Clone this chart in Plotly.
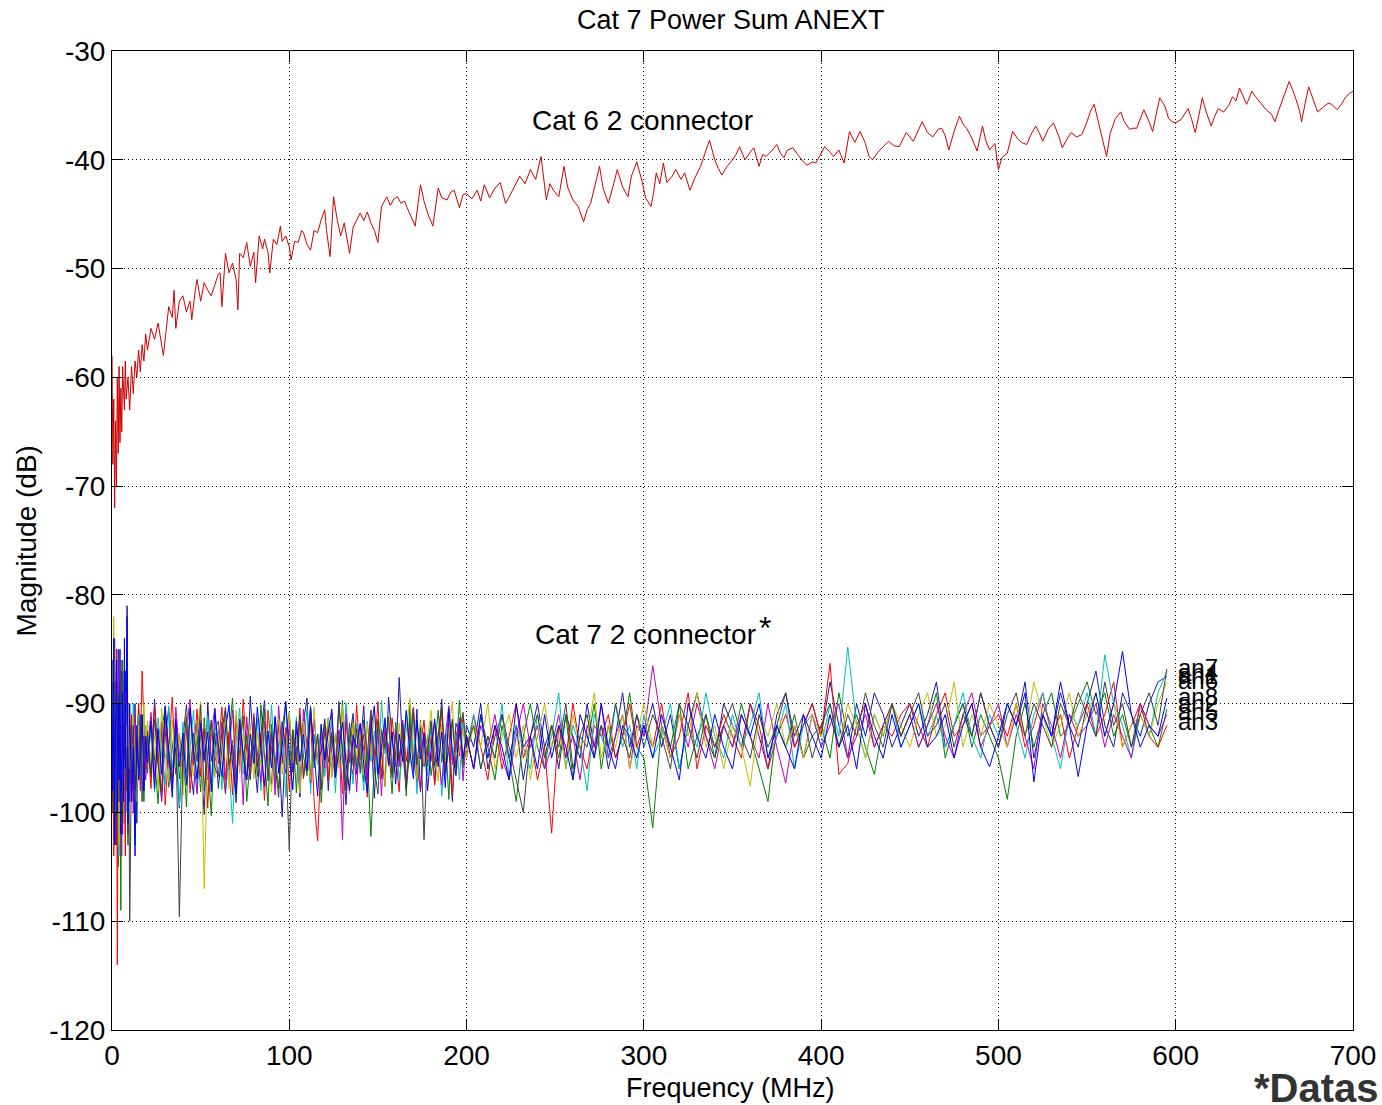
import plotly.graph_objects as go

# ---------------- data ----------------
# Cat 6 2 connector (red curve)
RED_F = [
    0, 0.5, 1, 1.5, 2, 2.5, 3, 3.5, 4, 4.5,
    5, 5.5, 6, 7, 7.5, 8, 9, 10, 11, 12,
    13, 14, 15, 16, 17, 18, 19, 20, 22, 24,
    26, 28, 29, 31, 32, 34, 35, 36, 38, 40,
    42, 44, 45, 47, 48, 50, 52, 54, 56, 58,
    60, 61, 62, 64, 66, 68, 70, 71, 72, 74,
    76, 78, 80, 81, 83, 85, 86, 88, 89, 91,
    93, 95, 96, 98, 100, 101, 103, 105, 107, 108,
    110, 112, 114, 116, 118, 120, 121, 123, 125, 127,
    129, 131, 134, 136, 138, 140, 142, 144, 146, 148,
    150, 152, 155, 157, 159, 161, 163, 165, 167, 169,
    171, 174, 176, 178, 181, 184, 186, 189, 191, 193,
    196, 198, 200, 203, 206, 208, 210, 213, 216, 219,
    222, 226, 230, 233, 236, 239, 242, 245, 247, 249,
    252, 255, 257, 260, 263, 266, 268, 270, 273, 275,
    277, 280, 283, 285, 288, 291, 293, 296, 299, 301,
    304, 305.5, 307, 309, 311, 313, 316, 318, 321, 323,
    326, 329, 332, 335, 337, 340, 342, 344, 347, 350,
    352, 354, 357, 360, 362, 365, 367, 369, 372, 375,
    377, 379, 381, 384, 387, 390, 392, 395, 397, 400,
    402, 405, 407, 410, 413, 416, 419, 422, 425, 427,
    429, 432, 435, 438, 441, 444, 448, 452, 457, 460,
    463, 466, 468, 470, 472, 475, 478, 480, 482, 485,
    488, 491, 493, 495, 498, 500, 502, 505, 508, 511,
    513, 516, 518, 521, 523, 525, 528, 531, 534, 536,
    539, 541, 544, 547, 550, 552, 554, 556, 558, 561,
    563, 566, 569, 571, 574, 576, 578, 580, 582, 585,
    587, 589, 591, 594, 596, 598, 600, 603, 605, 607,
    609, 611, 613, 615, 617, 620, 622, 624, 627, 630,
    632, 634, 636, 638, 640, 643, 645, 648, 651, 654,
    656, 658, 660, 662, 664, 666, 668, 670, 671, 673,
    675, 677, 680, 683, 686, 688, 691, 693, 696, 698,
    700,
]
RED_DB = [
    -58, -68, -62, -72, -64, -70, -60, -67, -59, -66,
    -61, -65, -59, -63, -58.5, -62, -60, -63, -59, -61.5,
    -58.5, -60, -57.5, -59.5, -57, -58.5, -56, -57.5, -55.5, -56.5,
    -55, -57, -58, -55, -53.5, -54.5, -52, -55.5, -53, -52.5,
    -54, -53, -54.7, -52, -51, -53, -51.3, -52, -52.5, -51.5,
    -50.5, -50.4, -53.5, -48.6, -50.4, -49.5, -51, -53.8, -48.6, -49,
    -47.6, -49.8, -48.5, -51.3, -47, -48.2, -47.3, -48.5, -50.4, -47.3,
    -47.8, -46.1, -47.5, -47, -48, -49.2, -47.5, -47.6, -46.5, -46.7,
    -47.8, -48.3, -46.5, -46.7, -45.5, -44.6, -46.5, -48.9, -43.4, -45.5,
    -47, -45.8, -48.6, -46.2, -45.5, -44.9, -45.6, -44.8, -45.8, -46.5,
    -47.6, -44.3, -43.4, -44.2, -43.6, -43.4, -44, -43.8, -44.6, -45.3,
    -46.1, -42.3, -43.8, -44.9, -46.1, -42.6, -43.5, -43.7, -43, -42.8,
    -44.4, -43.2, -43.1, -43.6, -42.8, -43.8, -42.3, -43.5, -42.6, -42.1,
    -44, -42.8, -41.5, -42.2, -40.9, -41.8, -39.7, -43.7, -42.2, -42.8,
    -43.4, -40.6, -42.5, -43.7, -44.3, -45.7, -44.6, -44, -42, -40.6,
    -42.6, -44, -42.2, -40.9, -42.5, -43.4, -41.5, -40.2, -42, -43.5,
    -44.3, -43, -41.2, -42.2, -40.3, -42.1, -41.5, -40.9, -41.8, -41.2,
    -42.8, -41.6, -40.6, -39.2, -38.2, -40, -40.8, -41.4, -40.6, -40,
    -39.5, -38.8, -40, -39.3, -38.9, -40.6, -39.5, -39.7, -39.2, -38.6,
    -39.4, -39.8, -39.1, -38.9, -39.6, -40.2, -40.5, -40.2, -40.3, -39.4,
    -38.8, -39.3, -39.7, -39.1, -40.3, -37.4, -38.4, -37.4, -38.5, -39.7,
    -40, -39.3, -38.8, -38.3, -38.7, -38.8, -37.5, -38.3, -36.5, -37.5,
    -37.9, -37.2, -37.1, -37.8, -39.1, -37.4, -36, -36.7, -37.1, -38,
    -39.2, -36.9, -38.3, -39.1, -38.5, -40.9, -39.8, -39.4, -37.4, -38.1,
    -38.4, -38.6, -37.8, -36.9, -37.5, -38.3, -37.2, -36.6, -37.8, -38.9,
    -38, -37.5, -37.9, -37.7, -36.5, -35.5, -34.9, -36.3, -37.8, -39.7,
    -37.6, -36.2, -35.6, -36.5, -37.2, -37.1, -37.1, -36.2, -35.4, -36.5,
    -37.4, -35.8, -34.3, -35.1, -36.2, -36.5, -36.6, -36.3, -35.8, -35.3,
    -36.3, -37.5, -36, -34.3, -35.5, -36.9, -36, -35.3, -35.6, -35,
    -34.2, -34.6, -33.4, -34.2, -34.9, -33.7, -34.2, -34.8, -35.4, -35.8,
    -36.5, -35.5, -34.6, -33.7, -32.8, -33.6, -34.5, -35.6, -36.5, -34.8,
    -33.3, -34.2, -35.6, -35.2, -34.8, -34.9, -35.4, -35, -34.2, -33.9,
    -33.7,
]

# Cat 7 2 connector: shared frequency grid (MHz)
CAT7_F = [
    0, 0.5, 1, 1.5, 2, 2.5, 3, 3.5, 4, 4.5,
    5, 5.5, 6, 6.5, 7, 7.5, 8, 8.5, 9, 9.5,
    10, 11, 12, 13, 14, 15, 16, 17, 18, 19,
    20, 22, 24, 26, 28, 30, 32, 34, 36, 38,
    40, 42, 44, 46, 48, 50, 52, 54, 56, 58,
    60, 62, 64, 66, 68, 70, 72, 74, 76, 78,
    80, 82, 84, 86, 88, 90, 92, 94, 96, 98,
    100, 102, 104, 106, 108, 110, 112, 114, 116, 118,
    120, 122, 124, 126, 128, 130, 132, 134, 136, 138,
    140, 142, 144, 146, 148, 150, 152, 154, 156, 158,
    160, 162, 164, 166, 168, 170, 172, 174, 176, 178,
    180, 182, 184, 186, 188, 190, 192, 194, 196, 198,
    200, 204, 208, 212, 216, 220, 224, 228, 232, 236,
    240, 244, 248, 252, 256, 260, 264, 268, 272, 276,
    280, 284, 288, 292, 296,
    300, 305, 310, 315, 320, 325, 330, 335, 340, 345,
    350, 355, 360, 365, 370, 375, 380, 385, 390, 395,
    400, 405, 410, 415, 420, 425, 430, 435, 440, 445,
    450, 455, 460, 465, 470, 475, 480, 485, 490, 495,
    500, 505, 510, 515, 520, 525, 530, 535, 540, 545,
    550, 555, 560, 565, 570, 575, 580, 585, 590, 595,
]

AN1 = [
    -92, -86, -99, -84, -101, -88, -95, -85, -100, -90,
    -97, -86, -102, -89, -94, -87, -98, -81, -96, -90,
    -99, -92, -96, -90, -101, -93, -97, -91, -95, -93,
    -92.5, -96.8, -89.6, -95.2, -98.9, -93.1, -90.4, -97.3, -94.0, -99.6,
    -93.2, -90.1, -95.7, -98.4, -91.8, -94.6, -100.2, -89.9, -95.3, -92.7,
    -97.8, -94.2, -90.6, -96.1, -93.4, -99.1, -91.5, -94.8, -97.0, -89.3,
    -94.5, -98.2, -92.8, -89.7, -95.9, -97.4, -91.2, -94.1, -100.4, -93.0,
    -90.8, -96.3, -93.9, -98.6, -91.7, -89.5, -97.1, -92.9, -95.6, -94.3,
    -91.4, -98.0, -92.6, -95.8, -89.8, -94.7, -99.3, -93.2, -90.9, -96.5,
    -94.1, -90.2, -96.9, -92.4, -98.7, -91.6, -94.9, -97.6, -89.4, -93.3,
    -95.8, -87.6, -94.4, -97.9, -91.3, -96.2, -90.5, -98.1, -93.6, -94.8,
    -91.9, -97.2, -93.5, -89.6, -96.4, -94.0, -99.0, -91.8, -92.7, -95.5,
    -92, -94, -90, -96, -93, -91, -95, -92, -97, -93,
    -90, -94, -92, -96, -91, -93, -95, -90, -94, -92,
    -96, -93, -89, -94, -91,
    -93, -90, -94, -91, -96, -92, -89, -93, -95, -90,
    -92, -94, -90, -93, -96, -91, -89, -94, -92, -90,
    -93, -88, -92, -95, -90, -93, -89, -91, -94, -92,
    -90, -93, -91, -88, -94, -92, -90, -93, -89, -92,
    -94, -90, -92, -88, -95, -91, -93, -89, -92, -94,
    -90, -87, -92, -94, -89, -91, -93, -90, -88, -87.5,
]
AN2 = [
    -95, -89, -102, -91, -88, -99, -93, -105, -90, -97,
    -109, -92, -86, -98, -94, -100, -89, -96, -103, -91,
    -94, -98, -92, -103, -95, -90, -97, -93, -99, -94,
    -96.4, -91.2, -95.0, -99.2, -92.6, -90.3, -97.7, -94.1, -91.5, -96.9,
    -93.8, -99.5, -90.4, -95.6, -92.9, -98.1, -91.3, -95.2, -100.3, -92.4,
    -91.6, -95.4, -98.3, -92.7, -89.5, -96.8, -94.3, -91.1, -99.0, -95.1,
    -92.5, -96.7, -90.1, -95.3, -99.4, -91.9, -94.6, -97.8, -92.3, -89.9,
    -95.7, -92.4, -98.2, -91.0, -94.8, -96.6, -90.2, -95.9, -92.8, -99.1,
    -94.4, -91.3, -96.7, -92.9, -95.4, -89.7, -98.0, -94.2, -91.6, -95.8,
    -92.8, -97.2, -94.5, -102.2, -95.6, -91.4, -96.8, -92.6, -93.9, -98.3,
    -91.7, -95.3, -92.4, -98.5, -90.1, -94.7, -97.1, -91.5, -95.8, -92.9,
    -96.6, -94.2, -90.6, -95.4, -92.8, -98.8, -91.4, -94.5, -89.7, -95.9,
    -93, -96, -91, -94, -97, -92, -95, -99, -93, -90,
    -94, -96, -92, -95, -91, -97, -93, -94, -90, -96,
    -92, -95, -93, -89, -94,
    -95, -101.4, -92, -94, -90, -96, -93, -91, -95, -92,
    -94, -90, -93, -96, -99, -92, -94, -91, -95, -93,
    -92, -95, -89, -93, -91, -94, -96.5, -92, -90, -93,
    -91, -94, -92, -89, -95, -92, -90, -94, -91, -93,
    -95, -98.8, -93, -90, -94, -91, -89, -93, -92, -90,
    -88, -91, -89, -93, -91, -94, -90, -92, -94, -90.5,
]
AN3 = [
    -97, -88, -104, -92, -100, -85, -114, -93, -90, -102,
    -95, -87, -99, -91, -96, -104, -89, -94, -100, -92,
    -97, -91, -99, -93, -95, -90, -94, -87, -92, -96,
    -92.7, -97.8, -90.2, -95.4, -91.6, -99.3, -94.2, -89.4, -96.5, -92.8,
    -95.9, -91.1, -98.2, -94.6, -90.5, -96.7, -92.3, -99.6, -91.8, -95.3,
    -94.1, -90.3, -97.0, -92.6, -98.4, -91.2, -95.7, -89.6, -94.4, -96.9,
    -91.5, -95.8, -92.7, -98.9, -90.6, -94.3, -97.2, -91.9, -95.5, -92.2,
    -98.0, -92.9, -95.4, -90.4, -96.8, -94.0, -91.3, -99.0, -102.6, -94.5,
    -92.6, -97.1, -90.8, -95.9, -92.4, -98.3, -91.7, -94.9, -96.6, -90.1,
    -95.2, -92.8, -98.6, -91.4, -94.7, -89.8, -96.9, -92.5, -95.6, -91.3,
    -94.6, -98.1, -91.8, -95.3, -92.9, -90.4, -97.3, -94.0, -91.5, -95.7,
    -93.1, -97.5, -94.3, -90.7, -95.9, -91.8, -98.4, -92.6, -94.8, -91.2,
    -95, -91, -94, -97, -92, -96, -93, -90, -95, -93,
    -97, -94, -101.9, -92, -95, -90, -94, -96, -92, -93,
    -91, -95, -93, -90, -94,
    -92, -94, -90, -95, -93, -89, -96, -92, -94, -91,
    -93, -95, -90, -92, -96, -93, -91, -94, -92, -90,
    -93, -86.3, -96.5, -95.5, -92, -90, -94, -92, -93, -91,
    -90, -92, -94, -91, -89, -93, -92, -90, -94, -92,
    -91, -93, -90, -94, -92, -89, -93, -91, -95, -92,
    -90, -93, -91, -88, -94, -92, -90, -93, -94, -92,
]
AN4 = [
    -90, -97, -86, -101, -93, -88, -98, -92, -104, -89,
    -95, -91, -99, -87, -96, -93, -100, -90, -94, -98,
    -92, -96, -90, -98, -94, -91, -97, -93, -95, -92,
    -95.6, -92.4, -98.1, -91.3, -94.7, -97.5, -90.2, -95.9, -92.8, -99.4,
    -91.7, -96.3, -94.1, -90.6, -98.2, -92.9, -95.4, -91.1, -97.3, -94.5,
    -92.3, -97.9, -91.5, -95.8, -101.0, -93.6, -90.4, -96.5, -92.7, -95.2,
    -94.8, -91.4, -98.0, -92.5, -95.7, -90.1, -96.9, -94.2, -91.6, -98.6,
    -92.4, -95.5, -91.2, -96.8, -93.9, -90.5, -98.3, -92.8, -95.1, -91.9,
    -96.7, -94.0, -91.3, -98.2, -92.6, -95.6, -89.9, -94.3, -97.4, -91.8,
    -94.2, -98.0, -91.6, -95.3, -92.5, -96.9, -89.7, -94.6, -91.9, -95.7,
    -92.8, -97.1, -94.6, -90.7, -95.5, -91.4, -98.3, -92.9, -94.1, -96.6,
    -91.5, -95.9, -92.6, -98.5, -94.4, -90.3, -95.2, -92.8, -97.0, -91.7,
    -94, -91, -96, -93, -95, -90, -97, -92, -94, -96,
    -91, -95, -93, -89, -96, -92, -94, -98, -91, -93,
    -95, -90, -94, -92, -96,
    -91, -95, -93, -90, -96, -92, -94, -89, -93, -95,
    -91, -94, -92, -89, -95, -93, -90, -96, -92, -91,
    -94, -90, -93, -84.8, -92, -95, -91, -93, -90, -94,
    -92, -90, -93, -91, -94, -92, -89, -93, -95, -91,
    -93, -90, -92, -95, -91, -89, -93, -96, -91, -92,
    -89, -93, -85.5, -90, -92, -95, -91, -93, -89, -87,
]
AN5 = [
    -93, -99, -89, -95, -103, -91, -97, -86, -100, -94,
    -92, -104, -90, -96, -88, -101, -93, -97, -91, -99,
    -95, -93, -100, -91, -96, -94, -98, -92, -95, -97,
    -94.3, -90.8, -96.7, -92.5, -99.0, -91.4, -95.6, -97.9, -90.3, -94.6,
    -96.8, -92.7, -89.6, -95.1, -98.3, -91.5, -94.2, -97.0, -92.8, -90.4,
    -95.5, -91.7, -98.2, -94.0, -90.6, -96.9, -92.4, -99.3, -91.2, -95.8,
    -90.9, -94.5, -97.2, -91.6, -95.3, -92.8, -98.4, -90.2, -94.7, -96.4,
    -91.8, -95.7, -92.3, -98.0, -90.5, -94.1, -97.3, -91.4, -95.2, -92.6,
    -95.9, -91.7, -94.6, -96.8, -92.5, -102.5, -90.9, -95.4, -92.8, -98.1,
    -91.9, -94.3, -97.0, -90.6, -95.5, -92.7, -98.5, -91.8, -94.2, -96.6,
    -92.4, -95.8, -91.5, -97.2, -94.1, -90.3, -95.7, -98.0, -92.6, -94.4,
    -95.3, -91.6, -94.8, -97.5, -92.9, -90.2, -95.6, -94.0, -91.3, -97.1,
    -93, -96, -92, -94, -91, -95, -97, -93, -90, -94,
    -92, -96, -94, -91, -95, -93, -97, -92, -94, -90,
    -95, -93, -91, -96, -92,
    -93, -86.5, -92, -95, -91, -94, -90, -93, -96, -92,
    -94, -91, -93, -95, -90, -94, -97.3, -92, -95, -91,
    -94, -92, -90, -95, -93, -91, -94, -92, -90, -93,
    -91, -94, -92, -90, -93, -95, -91, -89, -93, -92,
    -90, -94, -91, -93, -96, -90, -92, -95, -91, -93,
    -92, -90, -94, -91, -93, -95, -90, -92, -93, -91,
]
AN6 = [
    -96, -90, -82, -94, -100, -88, -97, -92, -103, -91,
    -86, -99, -94, -101, -89, -95, -92, -98, -90, -96,
    -93, -97, -91, -95, -99, -92, -94, -96, -90, -94,
    -91.6, -95.3, -92.8, -98.0, -90.4, -94.6, -97.2, -91.5, -95.9, -92.7,
    -98.4, -90.7, -94.2, -96.6, -92.5, -89.8, -107.0, -94.3, -91.6, -96.8,
    -92.9, -95.5, -91.3, -97.8, -94.1, -90.6, -96.4, -92.7, -95.2, -91.8,
    -96.9, -92.6, -95.7, -90.5, -94.3, -98.1, -92.8, -91.4, -96.5, -94.2,
    -90.8, -95.4, -92.9, -98.2, -91.6, -94.7, -97.0, -90.3, -95.6, -92.5,
    -94.1, -91.3, -96.8, -92.7, -95.9, -90.2, -94.5, -98.3, -91.8, -95.0,
    -92.6, -96.5, -91.9, -94.8, -90.4, -95.7, -92.3, -97.6, -91.5, -94.9,
    -96.4, -91.8, -95.1, -92.6, -89.5, -94.2, -96.9, -91.7, -95.5, -92.8,
    -90.6, -94.7, -97.1, -91.9, -95.3, -92.5, -89.8, -96.6, -94.1, -92.4,
    -95, -92, -94, -90, -96, -93, -91, -95, -92, -97,
    -93, -90, -94, -92, -96, -91, -94, -93, -89, -95,
    -92, -94, -91, -96, -93,
    -90, -94, -92, -95, -91, -93, -89, -94, -92, -96,
    -92, -94, -97.6, -91, -93, -90, -94, -92, -95, -91,
    -93, -91, -94, -90, -92, -95, -91, -93, -90, -92,
    -94, -91, -89, -93, -92, -88, -94, -91, -93, -90,
    -92, -94, -90, -93, -88, -91, -94, -92, -89, -93,
    -91, -89, -93, -90, -94, -92, -91, -93, -90, -88,
]
AN7 = [
    -94, -100, -88, -96, -91, -103, -95, -89, -99, -93,
    -97, -87, -101, -92, -95, -90, -98, -94, -102, -96,
    -110, -95, -92, -98, -94, -96, -91, -99, -93, -95,
    -92.8, -96.5, -91.4, -95.7, -98.1, -90.6, -94.3, -97.2, -92.5, -109.6,
    -94.6, -91.2, -96.8, -92.7, -95.3, -90.1, -98.0, -94.4, -91.5, -95.9,
    -96.7, -92.5, -90.3, -95.6, -93.8, -98.2, -91.4, -95.1, -92.9, -97.0,
    -91.3, -95.8, -94.2, -90.5, -97.1, -92.6, -95.4, -98.6, -91.7, -94.3,
    -103.5, -92.4, -95.6, -91.1, -96.9, -94.0, -90.4, -95.3, -92.8, -97.9,
    -91.6, -95.4, -92.9, -96.7, -90.2, -94.5, -98.0, -91.8, -95.7, -92.3,
    -96.4, -91.5, -94.7, -90.6, -95.9, -98.3, -92.4, -94.1, -91.2, -96.8,
    -92.7, -95.2, -91.9, -97.8, -94.3, -90.5, -95.6, -92.2, -102.5, -94.0,
    -91.6, -95.7, -92.8, -90.3, -96.4, -94.1, -91.5, -95.9, -92.6, -90.8,
    -94, -92, -96, -93, -95, -91, -94, -97, -100, -93,
    -91, -95, -92, -94, -90, -96, -93, -91, -95, -92,
    -94, -90, -93, -95, -91,
    -94, -91, -93, -96, -90, -92, -95, -91, -94, -92,
    -90, -93, -95, -91, -94, -92, -89, -93, -91, -95,
    -92, -90, -94, -91, -93, -89, -92, -94, -90, -93,
    -91, -89, -93, -92, -90, -94, -91, -93, -89, -92,
    -94, -91, -89, -93, -90, -92, -94, -90, -92, -89,
    -91, -93, -88, -92, -90, -94, -91, -89, -92, -86.8,
]
AN8 = [
    -88, -98, -84, -103, -92, -86, -100, -90, -97, -85,
    -102, -93, -89, -99, -84, -96, -91, -82, -101, -95,
    -90, -99, -94, -104, -92, -97, -95, -91, -98, -93,
    -95.4, -91.6, -97.8, -92.3, -96.5, -90.2, -94.7, -98.6, -91.4, -95.8,
    -92.7, -97.5, -90.4, -94.3, -96.9, -91.8, -95.2, -92.6, -98.1, -90.5,
    -94.2, -96.7, -92.4, -90.1, -95.6, -98.3, -91.5, -94.6, -97.0, -92.8,
    -95.5, -90.3, -94.1, -97.6, -92.5, -95.9, -91.2, -96.4, -94.0, -89.8,
    -94.5, -97.9, -91.6, -95.3, -92.8, -96.2, -90.4, -94.7, -98.5, -91.9,
    -95.2, -92.6, -90.5, -96.8, -94.3, -91.7, -95.4, -98.0, -92.9, -94.1,
    -91.8, -95.6, -98.2, -92.4, -90.2, -96.5, -94.0, -91.3, -95.7, -92.6,
    -97.4, -92.8, -95.3, -90.6, -94.4, -96.9, -91.5, -95.1, -92.7, -98.0,
    -94.2, -91.4, -95.8, -92.6, -97.7, -90.5, -94.3, -96.6, -91.7, -95.0,
    -93, -96, -91, -95, -92, -94, -97, -90, -94, -93,
    -96, -91, -95, -92, -94, -97, -91, -93, -95, -90,
    -94, -96, -92, -93, -95,
    -92, -95, -91, -94, -97, -90, -93, -95, -91, -94,
    -96, -91, -93, -90, -95, -92, -94, -96, -91, -93,
    -95, -91, -94, -92, -96, -90, -93, -95, -91, -94,
    -92, -90, -94, -93, -91, -95, -92, -90, -94, -95.8,
    -93, -90, -92, -89, -97.2, -91, -93, -88, -92, -96.7,
    -92, -89, -93, -90, -85.2, -91, -94, -92, -93, -89.5,
]

SERIES_NAMES = ["an1", "an2", "an3", "an4", "an5", "an6", "an7", "an8"]
SERIES_VALUES = [AN1, AN2, AN3, AN4, AN5, AN6, AN7, AN8]
SERIES_COLORS = ["#1a1aa8", "#008000", "#ff0000", "#00bfbf",
                 "#bf00bf", "#bfbf00", "#404040", "#0000ff"]
# y positions of the end-of-line labels (dB)
LABEL_Y = [-87.4, -90.0, -91.6, -87.1, -90.7, -87.9, -86.7, -89.3]
LABEL_X = 600

X_TICKS = [0, 100, 200, 300, 400, 500, 600, 700]
X_TICK_TEXT = ["0", "100", "200", "300", "400", "500", "600", "700"]
Y_TICKS = [-120, -110, -100, -90, -80, -70, -60, -50, -40, -30]
Y_TICK_TEXT = ["-120", "-110", "-100", "-90", "-80", "-70", "-60", "-50",
               "-40", "-30"]

assert len(RED_F) == len(RED_DB), (len(RED_F), len(RED_DB))
for nm, s in zip(SERIES_NAMES, SERIES_VALUES):
    assert len(s) == len(CAT7_F), (nm, len(s), len(CAT7_F))

# ---------------- figure ----------------
FONT = "Liberation Sans, Arial, sans-serif"
fig = go.Figure()

fig.add_trace(go.Scatter(x=RED_F, y=RED_DB, mode="lines",
                         line=dict(color="#d00000", width=1),
                         showlegend=False, hoverinfo="skip"))

for nm, vals, col in zip(SERIES_NAMES, SERIES_VALUES, SERIES_COLORS):
    fig.add_trace(go.Scatter(x=CAT7_F, y=vals, mode="lines", name=nm,
                             line=dict(color=col, width=1),
                             showlegend=False))

annotations = []
for nm, ly in zip(SERIES_NAMES, LABEL_Y):
    annotations.append(dict(x=LABEL_X, y=ly, xref="x", yref="y", text=nm,
                            showarrow=False, xanchor="left", yanchor="middle",
                            font=dict(family=FONT, size=24, color="black")))

annotations += [
    dict(x=299.5, y=-36.4, xref="x", yref="y", text="Cat 6 2 connector",
         showarrow=False, xanchor="center", yanchor="middle",
         font=dict(family=FONT, size=28, color="black")),
    dict(x=237.5, y=-83.6, xref="x", yref="y",
         text="Cat 7 2 connector",
         showarrow=False, xanchor="left", yanchor="middle",
         font=dict(family=FONT, size=28, color="black")),
    dict(x=368.3, y=-83.0, xref="x", yref="y", text="*",
         showarrow=False, xanchor="center", yanchor="middle",
         font=dict(family=FONT, size=32, color="black")),
    dict(x=0.4985, y=1.0317, xref="paper", yref="paper",
         text="Cat 7 Power Sum ANEXT", showarrow=False,
         xanchor="center", yanchor="middle",
         font=dict(family=FONT, size=27, color="black")),
    dict(x=0.4985, y=-0.0592, xref="paper", yref="paper",
         text="Frequency (MHz)", showarrow=False,
         xanchor="center", yanchor="middle",
         font=dict(family=FONT, size=27, color="black")),
    dict(x=-0.0685, y=0.5, xref="paper", yref="paper",
         text="Magnitude (dB)", showarrow=False, textangle=-90,
         xanchor="center", yanchor="middle",
         font=dict(family=FONT, size=28, color="black")),
    dict(x=0.9186, y=-0.0595, xref="paper", yref="paper",
         text="<b>*Datas</b>", showarrow=False,
         xanchor="left", yanchor="middle",
         font=dict(family=FONT, size=40, color="#333333")),
]

axis_common = dict(
    showline=True, linecolor="black", linewidth=1, mirror="ticks",
    ticks="inside", ticklen=11, tickwidth=1, tickcolor="black",
    showgrid=True, gridcolor="black", gridwidth=1, griddash="1px,3px",
    zeroline=False,
    tickfont=dict(family=FONT, size=28, color="black"),
)

fig.update_layout(
    width=1382, height=1105,
    margin=dict(l=112, r=29, t=51, b=75, autoexpand=False),
    paper_bgcolor="white", plot_bgcolor="white",
    xaxis=dict(range=[0, 700], tickvals=X_TICKS, ticktext=X_TICK_TEXT,
               **axis_common),
    yaxis=dict(range=[-120, -30], tickvals=Y_TICKS, ticktext=Y_TICK_TEXT,
               **axis_common),
    annotations=annotations,
    showlegend=False,
)

fig.write_html(
    "out.html",
    config={"displayModeBar": False},
    post_script=("document.body.style.margin='0px';"
                 "document.documentElement.style.overflow='hidden';"),
)
